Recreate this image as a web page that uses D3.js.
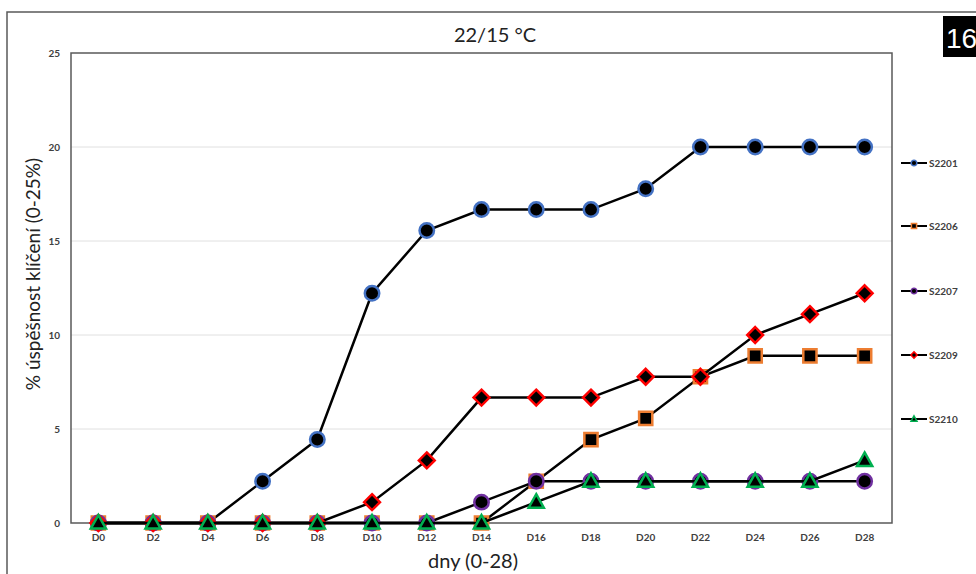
<!DOCTYPE html>
<html><head><meta charset="utf-8">
<script src="https://cdn.jsdelivr.net/npm/d3@7/dist/d3.min.js"></script>
<style>body{margin:0;background:#fff}svg{display:block}</style>
</head><body>
<svg id="c" width="976" height="574"></svg>
<script>
const days = ["D0","D2","D4","D6","D8","D10","D12","D14","D16","D18","D20","D22","D24","D26","D28"];
const yTicks = [0,5,10,15,20,25];
const seriesNames = ["S2201","S2206","S2207","S2209","S2210"];
const seriesColors = ["#4472c4","#ed7d31","#7030a0","#ff0000","#00b050"];
const seriesShapes = ["circle","square","circle","diamond","triangle"];
const s2201 = [0,0,0,2.22,4.44,12.22,15.56,16.67,16.67,16.67,17.78,20,20,20,20];
const s2206 = [0,0,0,0,0,0,0,0,2.22,4.44,5.56,7.78,8.89,8.89,8.89];
const s2207 = [0,0,0,0,0,0,0,1.11,2.22,2.22,2.22,2.22,2.22,2.22,2.22];
const s2209 = [0,0,0,0,0,1.11,3.33,6.67,6.67,6.67,7.78,7.78,10,11.11,12.22];
const s2210 = [0,0,0,0,0,0,0,0,1.11,2.22,2.22,2.22,2.22,2.22,3.33];
const seriesValues = [s2201,s2206,s2207,s2209,s2210];

const svg = d3.select("#c");
const L=71, R=892, T=53, B=523;
const x = d3.scaleBand().domain(days).range([L,R]);
const y = d3.scaleLinear().domain([0,25]).range([B,T]);

// outer frame
svg.append("rect").attr("x",7).attr("y",12).attr("width",1000).attr("height",1000)
  .attr("fill","none").attr("stroke","#595959").attr("stroke-width",1.5);

// gridlines
svg.append("g").selectAll("line").data(yTicks.filter(d=>d>0&&d<25)).join("line")
  .attr("x1",L).attr("x2",R).attr("y1",d=>y(d)).attr("y2",d=>y(d))
  .attr("stroke","#e0e0e0").attr("stroke-width",1);

// plot border
svg.append("rect").attr("x",L).attr("y",T).attr("width",R-L).attr("height",B-T)
  .attr("fill","none").attr("stroke","#595959").attr("stroke-width",1.5);

// axes
const yAxis = d3.axisLeft(y).tickValues(yTicks).tickSize(0).tickPadding(11);
const gy = svg.append("g").attr("transform",`translate(${L},0)`).call(yAxis);
gy.select(".domain").remove();
gy.selectAll("text").attr("font-family","Lato, sans-serif").attr("font-size",10).attr("font-weight","bold").attr("fill","#404040");

const xAxis = d3.axisBottom(x).tickSize(0).tickPadding(11);
const gx = svg.append("g").attr("transform",`translate(0,${B})`).call(xAxis);
gx.select(".domain").remove();
gx.selectAll("text").attr("font-family","Lato, sans-serif").attr("font-size",10).attr("font-weight","bold").attr("fill","#404040");

// titles
svg.append("text").attr("x",495).attr("y",42).attr("text-anchor","middle")
  .attr("font-family","Lato, sans-serif").attr("font-size",20).attr("fill","#222").text("22/15 °C");
svg.append("text").attr("transform","translate(40,274) rotate(-90)").attr("text-anchor","middle")
  .attr("font-family","Lato, sans-serif").attr("font-size",19).attr("fill","#222").text("% úspěšnost klíčení (0-25%)");
svg.append("text").attr("x",473).attr("y",568).attr("text-anchor","middle")
  .attr("font-family","Lato, sans-serif").attr("font-size",20).attr("fill","#222").text("dny (0-28)");

// badge
svg.append("rect").attr("x",943).attr("y",16).attr("width",40).attr("height",41).attr("fill","#000");
svg.append("text").attr("x",946).attr("y",48).attr("font-family","Liberation Sans, Arial, sans-serif")
  .attr("font-size",28).attr("fill","#fff").text("16");

const cx = d => x(d) + x.bandwidth()/2;
function shapePath(shape, size){
  const s = size;
  if(shape==="circle") return d3.symbol(d3.symbolCircle, Math.PI*s*s*1.2)();
  if(shape==="square") return `M${-s},${-s}H${s}V${s}H${-s}Z`;
  if(shape==="diamond") return `M0,${-s*1.2}L${s*1.2},0L0,${s*1.2}L${-s*1.2},0Z`;
  if(shape==="triangle") return `M0,${-s*1.2}L${s*1.15},${s*0.85}L${-s*1.15},${s*0.85}Z`;
}
const line = d3.line().x((d,i)=>cx(days[i])).y(d=>y(d));

seriesValues.forEach((vals,k)=>{
  const g = svg.append("g");
  g.append("path").datum(vals).attr("d",line).attr("fill","none").attr("stroke","#000").attr("stroke-width",2.5);
  g.selectAll("path.m").data(vals).join("path").attr("class","m")
    .attr("transform",(d,i)=>`translate(${cx(days[i])},${y(d)})`)
    .attr("d",shapePath(seriesShapes[k],6.6))
    .attr("fill","#000").attr("stroke",seriesColors[k]).attr("stroke-width",2.5);
});

// legend
const legY = [163,226,291,355,419];
seriesNames.forEach((n,k)=>{
  const g = svg.append("g").attr("transform",`translate(0,${legY[k]})`);
  g.append("line").attr("x1",901).attr("x2",927).attr("y1",0).attr("y2",0).attr("stroke","#000").attr("stroke-width",2);
  g.append("path").attr("transform","translate(914,0)").attr("d",shapePath(seriesShapes[k],2.6))
    .attr("fill","#000").attr("stroke",seriesColors[k]).attr("stroke-width",1.5);
  g.append("text").attr("x",929).attr("y",3.5).attr("font-family","Lato, sans-serif").attr("font-size",10)
    .attr("font-weight","bold").attr("fill","#404040").text(n);
});
</script>
</body></html>
